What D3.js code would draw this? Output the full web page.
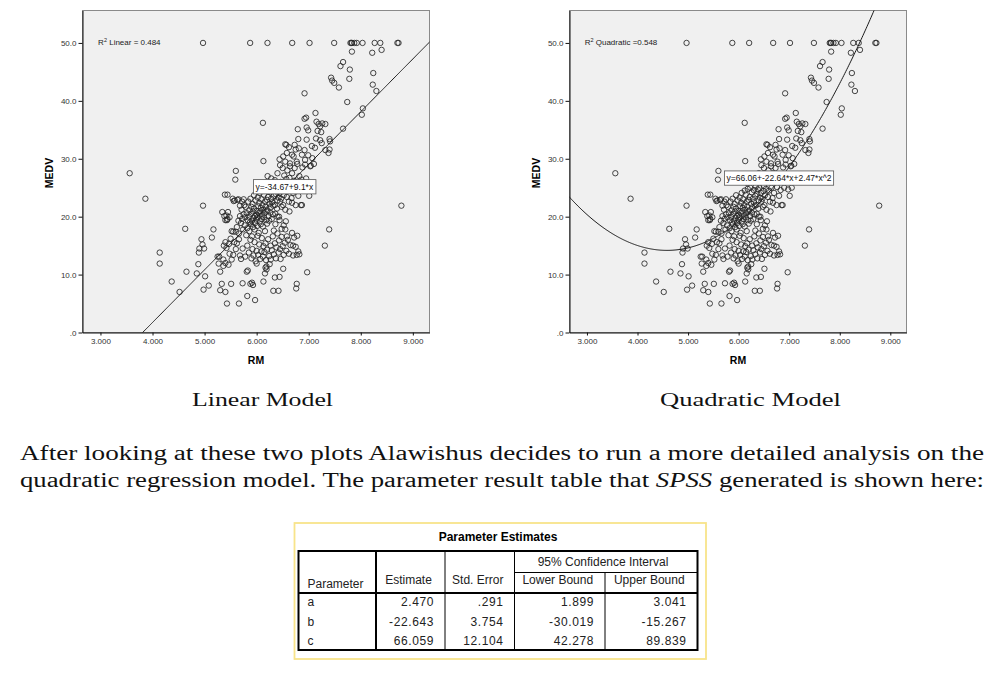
<!DOCTYPE html>
<html>
<head>
<meta charset="utf-8">
<script src="https://cdn.jsdelivr.net/npm/d3@7"></script>
<style>
  body { margin: 0; background: #fff; }
  svg { display: block; }
</style>
</head>
<body>
<svg id="page" width="996" height="673"></svg>
<script>
// RM (rooms) vs MEDV (median value)
const houses = [
  [4.970,50],[5.875,50],[6.208,50],[6.683,50],[7.016,50],[7.489,50],[7.802,50],[7.820,50],
  [7.831,50],[7.875,50],[7.923,50],[8.034,50],[8.267,50],[8.375,50],[8.704,50],[8.725,50],
  [7.83,48.5],[8.22,48.3],[8.40,48.8],[7.66,46.7],[7.61,46.0],[7.79,45.4],[8.24,44.8],[7.43,44.0],
  [7.45,43.5],[7.49,43.1],[7.78,43.8],[8.23,42.8],[8.30,41.7],[7.58,42.3],[6.92,41.3],[7.74,39.8],
  [8.04,38.7],[8.02,37.6],[7.13,37.9],[6.95,37.1],[6.92,36.9],[6.12,36.2],[7.66,35.2],[6.79,35.1],
  [6.96,35.4],[6.99,34.9],[7.15,36.4],[7.19,36.0],[7.22,35.6],[7.26,36.1],[7.32,36.0],[7.17,34.8],
  [7.24,34.6],[6.80,33.4],[6.96,33.3],[7.14,33.5],[7.22,33.2],[7.40,33.4],[7.41,33.0],[6.55,32.5],
  [6.73,32.4],[6.81,31.8],[7.06,32.2],[7.12,31.9],[7.25,32.7],[7.32,31.5],[7.40,31.6],[7.38,31.0],
  [6.58,31.0],[6.71,30.4],[6.87,30.7],[6.99,30.6],[6.13,29.6],[6.44,29.9],[6.51,30.4],[6.64,29.2],
  [6.77,29.5],[6.93,29.8],[7.04,28.8],[5.60,27.9],[5.59,26.4],[3.561,27.5],[3.863,23.1],[4.970,21.9],
  [8.780,21.9],[4.628,17.9],[7.393,17.8],[7.31,15.0],[6.97,10.4],[4.138,13.8],[4.138,11.9],[4.368,8.8],
  [4.519,7.0],[4.652,10.5],[4.94,16.1],[4.96,15.2],[4.99,14.5],[4.90,14.5],[4.89,13.8],[4.88,11.8],
  [4.85,10.2],[5.01,9.7],[4.98,7.4],[5.08,8.1],[5.14,16.4],[5.17,17.8],[5.25,13.1],[5.27,11.9],
  [5.30,10.5],[5.30,7.3],[5.33,8.4],[5.36,11.5],[5.40,7.0],[5.43,5.0],[5.51,8.4],[5.66,5.0],
  [5.73,8.5],[5.82,6.3],[5.88,8.4],[5.91,8.6],[5.97,5.6],[6.00,11.9],[6.13,8.8],[6.16,10.2],
  [6.19,11.4],[6.32,7.2],[6.42,7.2],[6.35,9.5],[6.44,9.6],[6.51,11.0],[6.77,8.4],[6.76,7.6],
  [5.81,10.5],[5.83,10.7],[5.93,8.2],[6.17,11.2],[6.19,10.9],[6.27,12.6],
  [5.34,20.8],[5.38,20.1],[5.40,19.4],[5.39,23.8],[5.54,23.1],[5.56,22.7],[6.68,22.4],[6.87,22.0],
  [5.60,17.4],[5.62,18.2],[5.65,19.3],[5.66,17.1],[5.68,20.1],[5.70,18.9],[5.71,21.2],[5.72,19.6],
  [5.74,17.8],[5.75,20.4],[5.76,22.0],[5.77,18.5],[5.78,19.9],[5.79,21.7],[5.80,16.8],[5.81,20.6],
  [5.82,18.0],[5.83,19.4],[5.84,22.6],[5.85,20.0],[5.86,17.5],[5.86,21.1],[5.87,19.0],[5.88,23.1],
  [5.89,18.7],[5.89,20.5],[5.90,21.7],[5.91,19.3],[5.91,16.6],[5.92,22.2],[5.93,18.2],[5.93,20.9],
  [5.94,19.8],[5.95,23.7],[5.95,21.4],[5.96,17.8],[5.97,20.1],[5.97,18.9],[5.98,22.8],[5.99,19.5],
  [6.00,21.0],[6.00,20.3],[6.01,18.4],[6.02,23.3],[6.02,19.9],[6.03,21.8],[6.04,20.6],[6.04,17.2],
  [6.05,22.4],[6.06,19.2],[6.06,24.1],[6.07,20.9],[6.08,18.7],[6.08,21.5],[6.09,23.0],[6.10,19.6],
  [6.10,20.2],[6.11,22.0],[6.12,24.5],[6.12,18.3],[6.13,21.2],[6.14,19.9],[6.14,23.8],[6.15,20.6],
  [6.16,22.6],[6.16,17.5],[6.17,21.7],[6.18,19.4],[6.18,24.8],[6.19,20.9],[6.20,22.9],[6.20,18.8],
  [6.21,21.1],[6.22,23.4],[6.23,20.1],[6.23,25.0],[6.24,19.3],[6.25,22.2],[6.26,24.2],[6.26,20.7],
  [6.27,21.6],[6.28,23.1],[6.29,19.6],[6.30,22.5],[6.30,24.6],[6.31,20.4],[6.32,21.9],[6.33,23.6],
  [6.34,25.2],[6.35,22.0],[6.36,20.5],[6.37,23.9],[6.38,24.7],[6.39,21.4],[6.40,22.8],[6.41,25.0],
  [6.42,23.3],[6.43,20.0],[6.44,24.1],[6.45,22.6],[6.46,26.0],[6.47,23.1],[6.48,21.7],[6.49,24.4],
  [6.50,25.3],[6.51,22.0],[6.52,23.7],[6.53,27.1],[6.54,24.8],[6.55,21.2],[6.57,26.5],[6.58,23.4],
  [6.59,28.0],[6.60,24.5],[6.62,22.6],[6.63,26.7],[6.64,28.7],[6.65,25.0],[6.67,23.2],[6.68,27.5],
  [6.70,24.1],[6.72,26.2],[6.73,28.4],[6.75,22.0],[6.76,25.1],[6.78,29.1],[6.80,23.6],[6.82,27.0],
  [6.83,24.6],[6.85,22.0],[6.86,26.4],[6.88,28.5],[6.90,25.0],[6.93,29.0],[6.95,26.6],[6.98,24.7],
  [7.01,23.6],[7.03,28.7],[7.05,25.0],[7.07,30.1],[7.10,29.1],[6.92,31.5],[6.75,31.6],[6.68,30.7],
  [6.62,32.0],[6.57,32.4],[6.55,29.5],[6.50,28.4],[6.45,28.9],[6.40,27.5],[6.35,26.3],[6.28,26.6],
  [6.21,27.0],[6.17,25.8],[5.75,23.0],[5.72,22.6],[5.68,21.9],[5.63,22.9],[5.65,23.0],[5.58,22.8],
  [5.44,23.8],[5.45,20.8],[5.42,20.2],[5.44,19.6],[5.43,19.4],[5.48,19.9],[5.52,17.5],[5.55,17.4],
  [5.50,16.2],[5.57,15.6],[5.60,14.4],[5.62,15.4],[5.66,16.1],[5.68,13.3],[5.70,12.7],[5.73,14.5],
  [5.55,13.4],[5.52,12.6],[5.48,13.6],[5.46,11.7],[5.40,12.0],[5.36,12.6],[5.42,14.6],[5.28,13.1],
  [5.37,15.0],[5.40,15.6],[5.47,15.3],
  [5.78,13.1],[5.82,15.0],[5.85,13.8],[5.88,16.0],[5.90,12.8],[5.92,14.4],[5.94,13.3],[5.96,15.6],
  [5.98,12.3],[6.00,14.1],[6.02,16.7],[6.03,13.4],[6.05,15.2],[6.07,12.7],[6.09,14.0],[6.10,16.3],
  [6.12,13.1],[6.13,14.9],[6.15,13.9],[6.17,15.4],[6.18,12.5],[6.20,14.3],[6.22,16.1],[6.24,13.2],
  [6.25,11.8],[6.27,15.0],[6.29,14.2],[6.31,16.6],[6.33,13.5],[6.35,15.4],[6.37,12.8],[6.38,14.7],
  [6.40,17.1],[6.42,13.8],[6.43,15.9],[6.45,14.4],[6.46,12.7],[6.48,16.5],[6.50,14.9],[6.52,13.4],
  [6.54,15.5],[6.55,17.8],[6.57,14.1],[6.60,16.0],[6.62,13.6],[6.65,15.1],[6.68,17.2],[6.70,13.3],
  [6.72,16.4],[6.75,14.8],[6.77,13.4],[6.80,14.0],[6.82,13.5],[6.56,19.2],[6.52,18.5],[6.48,17.9],
  [6.44,19.4],[6.40,20.0],[6.36,18.7],[6.33,17.6],[6.58,16.6],[6.63,20.9],[6.70,15.0],[6.78,16.7]
];

const xTicks = [3, 4, 5, 6, 7, 8, 9];
const yTicks = [0, 10, 20, 30, 40, 50];
const linearCoef = [-34.67, 9.1];          // a + b*x
const quadCoef = [66.06, -22.64, 2.47];    // a + b*x + c*x^2
const captions = ['Linear Model', 'Quadratic Model'];
const rSquaredLabels = ['Linear = 0.484', 'Quadratic =0.548'];
const equationLabels = ['y=-34.67+9.1*x', 'y=66.06+-22.64*x+2.47*x^2'];

const tableColumns = ['Parameter', 'Estimate', 'Std. Error', 'Lower Bound', 'Upper Bound'];
const tableParams = ['a', 'b', 'c'];
const tableValues = [
  ['2.470', '.291', '1.899', '3.041'],
  ['-22.643', '3.754', '-30.019', '-15.267'],
  ['66.059', '12.104', '42.278', '89.839']
];

const svg = d3.select('#page');
const sans = 'Arial, "Liberation Sans", sans-serif';
const serif = '"Liberation Serif", "Times New Roman", serif';

const linearFit = x => linearCoef[0] + linearCoef[1] * x;
const quadFit = x => quadCoef[0] + quadCoef[1] * x + quadCoef[2] * x * x;

const panels = [
  { left: 82.5, right: 429.5, fit: linearFit, eqAt: [5.94, 26.4], capX: 192, capW: 141 },
  { left: 569.5, right: 906.5, fit: quadFit, eqAt: [5.72, 27.9], capX: 660, capW: 181 }
];

const plotTop = 10.5;
const plotBottom = 332.5;

panels.forEach((p, i) => {
  const x = d3.scaleLinear().domain([2.655, 9.32]).range([p.left, p.right]);
  const y = d3.scaleLinear().domain([0, 55.6]).range([plotBottom, plotTop]);
  const g = svg.append('g');

  g.append('rect')
    .attr('x', p.left).attr('y', plotTop)
    .attr('width', p.right - p.left).attr('height', plotBottom - plotTop)
    .attr('fill', '#f0f0f0').attr('stroke', '#8a8a8a').attr('stroke-width', 1);

  g.append('clipPath').attr('id', 'clip' + i)
    .append('rect')
    .attr('x', p.left).attr('y', plotTop)
    .attr('width', p.right - p.left).attr('height', plotBottom - plotTop);

  // axes
  const yAxis = g.append('g')
    .attr('transform', 'translate(' + p.left + ',0)')
    .call(d3.axisLeft(y).tickValues(yTicks).tickSize(4).tickSizeOuter(0)
      .tickFormat(d => d === 0 ? '.0' : d.toFixed(1)));
  const xAxis = g.append('g')
    .attr('transform', 'translate(0,' + plotBottom + ')')
    .call(d3.axisBottom(x).tickValues(xTicks).tickSize(3).tickSizeOuter(0)
      .tickFormat(d => d.toFixed(3)));
  [yAxis, xAxis].forEach(a => {
    a.select('.domain').attr('stroke', '#111');
    a.selectAll('line').attr('stroke', '#111');
    a.selectAll('text').attr('font-family', sans).attr('font-size', 8).attr('fill', '#333');
  });
  yAxis.selectAll('text').attr('x', -6);
  xAxis.selectAll('text').attr('y', 6);

  g.append('text')
    .attr('x', (p.left + p.right) / 2 + (i ? 0 : 0)).attr('y', 364)
    .attr('text-anchor', 'middle')
    .attr('font-family', sans).attr('font-size', 10.5).attr('font-weight', 'bold')
    .text('RM');
  g.append('text')
    .attr('transform', 'translate(' + (p.left - 30) + ',' + 173 + ') rotate(-90)')
    .attr('text-anchor', 'middle')
    .attr('font-family', sans).attr('font-size', 10.5).attr('font-weight', 'bold')
    .text('MEDV');

  // points
  const marks = g.append('g').attr('clip-path', 'url(#clip' + i + ')');
  marks.selectAll('circle')
    .data(houses)
    .enter()
    .append('circle')
    .attr('cx', d => x(d[0]))
    .attr('cy', d => y(d[1]))
    .attr('r', 2.7)
    .attr('fill', 'none')
    .attr('stroke', '#262626')
    .attr('stroke-width', 0.85);

  // fitted line
  const xs = d3.range(2.6, 9.4, 0.02);
  marks.append('path')
    .attr('d', d3.line().x(d => x(d)).y(d => y(p.fit(d)))(xs))
    .attr('fill', 'none').attr('stroke', '#1a1a1a').attr('stroke-width', 1);

  // R squared label
  const r2 = g.append('text')
    .attr('x', x(2.955)).attr('y', y(49.6))
    .attr('font-family', sans).attr('font-size', 8).attr('fill', '#222');
  r2.append('tspan').text('R');
  r2.append('tspan').attr('dy', -3).attr('font-size', 5.5).text('2');
  r2.append('tspan').attr('dy', 3).text(' ' + rSquaredLabels[i]);

  // equation box
  const ex = x(p.eqAt[0]);
  const ey = y(p.eqAt[1]);
  const box = g.append('rect').attr('fill', '#fff').attr('stroke', '#555').attr('stroke-width', 0.8);
  const eq = g.append('text')
    .attr('x', ex + 2).attr('y', ey + 10.3)
    .attr('font-family', sans).attr('font-size', 8.5).attr('fill', '#111')
    .text(equationLabels[i]);
  const bb = eq.node().getBBox();
  box.attr('x', ex).attr('y', ey).attr('width', bb.width + 4).attr('height', 14.3);

  // caption
  svg.append('text')
    .attr('x', p.capX).attr('y', 406)
    .attr('font-family', serif).attr('font-size', 19)
    .attr('textLength', p.capW).attr('lengthAdjust', 'spacingAndGlyphs')
    .attr('fill', '#111')
    .text(captions[i]);
});

// paragraph
svg.append('text')
  .attr('x', 20).attr('y', 460)
  .attr('font-family', serif).attr('font-size', 20).attr('fill', '#111')
  .attr('textLength', 964).attr('lengthAdjust', 'spacingAndGlyphs')
  .text('After looking at these two plots Alawishus decides to run a more detailed analysis on the');
const line2 = svg.append('text')
  .attr('x', 20).attr('y', 487)
  .attr('font-family', serif).attr('font-size', 20).attr('fill', '#111')
  .attr('textLength', 964).attr('lengthAdjust', 'spacingAndGlyphs');
line2.append('tspan').text('quadratic regression model. The parameter result table that ');
line2.append('tspan').attr('font-style', 'italic').text('SPSS');
line2.append('tspan').text(' generated is shown here:');

// parameter table
const colEdges = [298.5, 376, 445, 514.5, 605, 697.5];
const tTop = 551, ciLine = 572.5, headBottom = 593, tBottom = 650;
const rowBase = [605.5, 625.5, 645];
const tbl = svg.append('g');

tbl.append('rect')
  .attr('x', 294.5).attr('y', 523).attr('width', 411.5).attr('height', 136)
  .attr('fill', '#fff').attr('stroke', '#f8e48a').attr('stroke-width', 1.8);

tbl.append('text')
  .attr('x', 498).attr('y', 541)
  .attr('text-anchor', 'middle')
  .attr('font-family', sans).attr('font-size', 12).attr('font-weight', 'bold')
  .text('Parameter Estimates');

const hline = (x1, x2, yy, w) => tbl.append('line')
  .attr('x1', x1).attr('x2', x2).attr('y1', yy).attr('y2', yy)
  .attr('stroke', '#000').attr('stroke-width', w);
const vline = (xx, y1, y2, w) => tbl.append('line')
  .attr('x1', xx).attr('x2', xx).attr('y1', y1).attr('y2', y2)
  .attr('stroke', '#000').attr('stroke-width', w);

hline(colEdges[3], colEdges[5], ciLine, 1);
hline(colEdges[0], colEdges[5], headBottom, 2);
vline(colEdges[1], tTop, tBottom, 2);
vline(colEdges[2], tTop, tBottom, 1);
vline(colEdges[3], tTop, tBottom, 1);
vline(colEdges[4], ciLine, tBottom, 1);
tbl.append('rect')
  .attr('x', colEdges[0]).attr('y', tTop)
  .attr('width', colEdges[5] - colEdges[0]).attr('height', tBottom - tTop)
  .attr('fill', 'none').attr('stroke', '#000').attr('stroke-width', 2);

tbl.append('text')
  .attr('x', (colEdges[3] + colEdges[5]) / 2 - 3).attr('y', 566)
  .attr('text-anchor', 'middle')
  .attr('font-family', sans).attr('font-size', 12).attr('fill', '#222')
  .text('95% Confidence Interval');

tableColumns.forEach((c, j) => {
  tbl.append('text')
    .attr('x', j === 0 ? colEdges[0] + 9 : (colEdges[j] + colEdges[j + 1]) / 2 - 2)
    .attr('y', j === 0 ? 588 : 584)
    .attr('text-anchor', j === 0 ? 'start' : 'middle')
    .attr('font-family', sans).attr('font-size', 12).attr('fill', '#222')
    .text(c);
});

tableParams.forEach((pName, r) => {
  tbl.append('text')
    .attr('x', colEdges[0] + 9).attr('y', rowBase[r])
    .attr('font-family', sans).attr('font-size', 12).attr('fill', '#222')
    .text(pName);
  tableValues[r].forEach((v, j) => {
    tbl.append('text')
      .attr('x', colEdges[j + 2] - 11).attr('y', rowBase[r])
      .attr('text-anchor', 'end')
      .attr('font-family', sans).attr('font-size', 12).attr('fill', '#222')
      .attr('letter-spacing', 0.6)
      .text(v);
  });
});
</script>
</body>
</html>
